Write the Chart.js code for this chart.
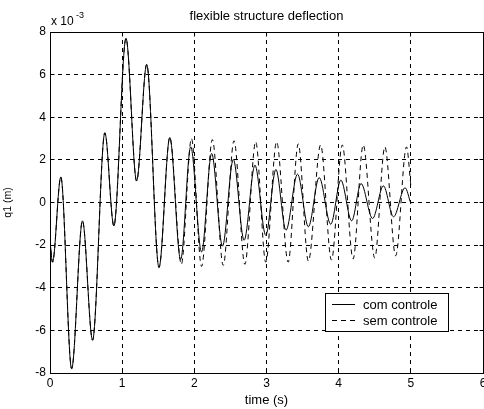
<!DOCTYPE html>
<html><head><meta charset="utf-8">
<script src="https://cdn.jsdelivr.net/npm/chart.js@4.4.1/dist/chart.umd.min.js"></script>
<style>html,body{margin:0;padding:0;background:#fff;}canvas{display:block;}</style>
</head><body>
<canvas id="c" width="484" height="409"></canvas>
<script>
// q1 values in units of 1e-3 m, read at the extrema of the curves (time in s)
const tShared = [0.00, 0.035, 0.15, 0.30, 0.45, 0.59, 0.76, 0.885, 1.053, 1.20, 1.34, 1.51, 1.66];
const qShared = [-1.8, -2.8, 1.2, -7.8, -0.86, -6.46, 3.27, -1.1, 7.70, 1.01, 6.48, -3.05, 3.05];
const tCom = [1.81, 1.95, 2.10, 2.24, 2.39, 2.54, 2.69, 2.84, 2.99, 3.13, 3.27, 3.43, 3.58, 3.73, 3.89, 4.03, 4.18, 4.31, 4.47, 4.62, 4.76, 4.92, 5.00];
const qCom = [-2.68, 2.61, -2.32, 2.30, -2.05, 2.02, -1.77, 1.75, -1.54, 1.55, -1.30, 1.33, -1.14, 1.17, -1.02, 1.05, -0.86, 0.89, -0.75, 0.78, -0.67, 0.69, -0.05];
const tSem = [1.82, 1.96, 2.10, 2.25, 2.40, 2.55, 2.70, 2.85, 2.99, 3.14, 3.30, 3.44, 3.58, 3.75, 3.90, 4.05, 4.20, 4.34, 4.50, 4.64, 4.79, 4.94, 5.00];
const qSem = [-2.9, 3.0, -3.0, 2.95, -2.95, 2.9, -2.9, 2.85, -2.8, 2.85, -2.8, 2.75, -2.75, 2.7, -2.7, 2.7, -2.65, 2.7, -2.6, 2.61, -2.5, 2.61, 0.8];
const xTicks = [0, 1, 2, 3, 4, 5, 6];
const yTicks = [-8, -6, -4, -2, 0, 2, 4, 6, 8];
const seriesLabels = ['com controle', 'sem controle'];
const titleText = 'flexible structure deflection';
const xTitle = 'time (s)';
const yTitle = 'q1 (m)';

const FONT = '"Liberation Sans", Arial, Helvetica, sans-serif';
const toPts = (ts, qs) => ts.map((t, i) => ({x: t, y: qs[i]}));
const comData = toPts(tShared, qShared).concat(toPts(tCom, qCom));
const semData = toPts(tShared, qShared).concat(toPts(tSem, qSem));

Chart.defaults.color = '#000';
Chart.defaults.font.family = FONT;

const align = p => Math.round(p - 0.5) + 0.5;

const decor = {
  id: 'decor',
  beforeDatasetsDraw(chart) {
    const {ctx, chartArea: ca, scales: {x, y}} = chart;
    ctx.save();
    ctx.strokeStyle = '#000';
    ctx.lineWidth = 1;
    ctx.setLineDash([4, 4]);
    xTicks.slice(1, -1).forEach(v => {
      const p = align(x.getPixelForValue(v));
      ctx.beginPath(); ctx.moveTo(p, ca.top); ctx.lineTo(p, ca.bottom); ctx.stroke();
    });
    yTicks.slice(1, -1).forEach(v => {
      const p = align(y.getPixelForValue(v));
      ctx.beginPath(); ctx.moveTo(ca.left, p); ctx.lineTo(ca.right, p); ctx.stroke();
    });
    ctx.restore();
  },
  afterDatasetsDraw(chart) {
    const {ctx, scales: {x, y}} = chart;
    const L = align(x.getPixelForValue(xTicks[0])), R = align(x.getPixelForValue(xTicks[xTicks.length - 1]));
    const T = align(y.getPixelForValue(yTicks[yTicks.length - 1])), B = align(y.getPixelForValue(yTicks[0]));
    ctx.save();
    ctx.strokeStyle = '#000';
    ctx.lineWidth = 1;
    ctx.setLineDash([]);
    ctx.strokeRect(L, T, R - L, B - T);
    const tl = 4;
    ctx.beginPath();
    xTicks.forEach(v => {
      const p = align(x.getPixelForValue(v));
      ctx.moveTo(p, B); ctx.lineTo(p, B - tl);
      ctx.moveTo(p, T); ctx.lineTo(p, T + tl);
    });
    yTicks.forEach(v => {
      const p = align(y.getPixelForValue(v));
      ctx.moveTo(L, p); ctx.lineTo(L + tl, p);
      ctx.moveTo(R, p); ctx.lineTo(R - tl, p);
    });
    ctx.stroke();

    // legend box
    const lx = 325.5, ly = 293.5, lw = 123, lh = 38;
    ctx.fillStyle = '#fff';
    ctx.fillRect(lx, ly, lw, lh);
    ctx.strokeRect(lx, ly, lw, lh);
    ctx.font = '13px ' + FONT;
    ctx.fillStyle = '#000';
    ctx.textBaseline = 'alphabetic';
    ctx.textAlign = 'left';
    const rows = [304.5, 320.5];
    chart.data.datasets.forEach((ds, i) => {
      ctx.setLineDash(ds.borderDash || []);
      ctx.beginPath(); ctx.moveTo(332, rows[i]); ctx.lineTo(355, rows[i]); ctx.stroke();
      ctx.setLineDash([]);
      ctx.fillText(ds.label, 363, rows[i] + 4.5);
    });
    ctx.restore();
  },
  afterDraw(chart) {
    const {ctx} = chart;
    ctx.save();
    ctx.fillStyle = '#000';
    ctx.textAlign = 'left';
    ctx.textBaseline = 'alphabetic';
    ctx.font = '12px ' + FONT;
    ctx.fillText('x 10', 51, 25);
    ctx.font = '9px ' + FONT;
    ctx.fillText('-3', 76, 18);
    ctx.restore();
  }
};

new Chart(document.getElementById('c'), {
  type: 'line',
  data: {
    datasets: [
      {label: seriesLabels[0], data: comData, borderColor: '#000', borderWidth: 1, pointRadius: 0,
       cubicInterpolationMode: 'monotone', fill: false},
      {label: seriesLabels[1], data: semData, borderColor: '#000', borderWidth: 1, pointRadius: 0,
       borderDash: [5, 4], cubicInterpolationMode: 'monotone', fill: false}
    ]
  },
  options: {
    responsive: false,
    animation: false,
    devicePixelRatio: 1,
    events: [],
    layout: {padding: {left: 0, right: 1, top: 0, bottom: 0}},
    plugins: {
      legend: {display: false},
      tooltip: {enabled: false},
      title: {display: true, text: titleText, fullSize: false, color: '#000',
              font: {family: FONT, size: 13, weight: 'normal'}, padding: {top: 9, bottom: 7.4}}
    },
    scales: {
      x: {
        type: 'linear', min: 0, max: 6,
        afterBuildTicks: s => { s.ticks = xTicks.map(v => ({value: v})); },
        ticks: {autoSkip: false, maxRotation: 0, padding: 3.5, color: '#000', font: {size: 12}},
        grid: {display: false, drawTicks: false, tickLength: 0},
        border: {display: false},
        title: {display: true, text: xTitle, color: '#000', font: {size: 13}, padding: {top: 0, bottom: 1}},
        afterFit: s => { s.height = 36; s.paddingLeft = 0; s.paddingRight = 0; }
      },
      y: {
        type: 'linear', min: -8, max: 8,
        afterBuildTicks: s => { s.ticks = yTicks.map(v => ({value: v})); },
        ticks: {autoSkip: false, padding: 4, color: '#000', font: {size: 12}},
        grid: {display: false, drawTicks: false, tickLength: 0},
        border: {display: false},
        title: {display: true, text: yTitle, color: '#000', font: {size: 10.5}, padding: {top: 2, bottom: 0}},
        afterFit: s => { s.width = 50; s.paddingTop = 0; s.paddingBottom = 0; }
      }
    }
  },
  plugins: [decor]
});
</script>
</body></html>
